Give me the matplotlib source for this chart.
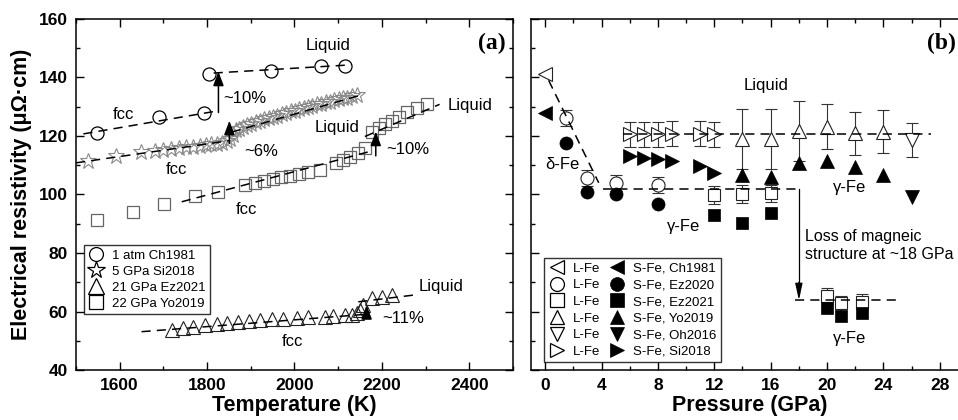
import matplotlib
matplotlib.use("Agg")
import matplotlib.pyplot as plt
from matplotlib.lines import Line2D
from matplotlib.ticker import MultipleLocator

plt.rcParams['font.family'] = ['Liberation Sans', 'DejaVu Sans']

# ---------------- Panel (a) data ----------------
circ_T = [1547, 1691, 1793, 1805, 1946, 2060, 2116]
circ_R = [121.1, 126.6, 127.8, 141.2, 142.3, 143.9, 143.9]

star_T = [1528, 1592, 1648, 1680, 1700, 1718, 1735, 1752, 1768, 1783, 1797, 1810,
          1822, 1834, 1845, 1853, 1859, 1866, 1874, 1882, 1891, 1901, 1911, 1921,
          1931, 1941, 1951, 1961, 1971, 1981, 1991, 2001, 2011, 2021, 2031, 2041,
          2051, 2061, 2071, 2081, 2091, 2101, 2111, 2121, 2131, 2144]
star_R = [111.6, 113.1, 114.4, 114.9, 115.3, 115.5, 115.9, 116.1, 116.2, 116.6, 116.8, 117.1,
          117.3, 117.7, 118.1, 118.8, 120.4, 121.9, 122.5, 122.9, 123.6, 124.0, 124.7, 125.1,
          125.7, 126.0, 126.6, 126.9, 127.5, 127.8, 128.4, 128.6, 129.2, 129.4, 130.0, 130.2,
          130.8, 131.0, 131.5, 131.7, 132.2, 132.5, 132.9, 133.1, 133.6, 134.1]

sq_T = [1549, 1631, 1701, 1772, 1826, 1887, 1910, 1930, 1950, 1970, 1990, 2010, 2032, 2058,
        2095, 2112, 2128, 2145, 2162, 2178, 2193, 2208, 2222, 2238, 2258, 2280, 2303]
sq_R = [91.3, 94.1, 96.8, 99.5, 101.0, 103.2, 104.0, 104.6, 105.3, 105.8, 106.4, 107.0, 107.8, 108.4,
        110.6, 111.8, 112.9, 114.0, 115.8, 121.5, 122.6, 124.0, 125.0, 126.5, 128.2, 129.6, 130.8]

tri_T = [1719, 1746, 1768, 1795, 1822, 1846, 1871, 1897, 1921, 1948, 1973, 2005, 2032, 2070,
         2089, 2116, 2131, 2142, 2150, 2157, 2177, 2200, 2222]
tri_R = [53.7, 54.3, 54.8, 55.4, 55.7, 56.2, 56.5, 56.9, 57.1, 57.3, 57.5, 57.8, 58.0, 58.2,
         58.5, 58.7, 58.9, 59.6, 60.5, 62.2, 64.5, 65.1, 65.6]

legend_a = ['1 atm Ch1981', '5 GPa Si2018', '21 GPa Ez2021', '22 GPa Yo2019']

# ---------------- Panel (b) data ----------------
L_ch_P, L_ch_R = [0], [141.0]
S_ch_P, S_ch_R = [0], [128.0]
L_ez20_P = [1.5, 3, 5, 8]
L_ez20_R = [126.2, 105.5, 104.0, 103.3]
L_ez20_E = [2.7, 2.7, 2.7, 2.7]
S_ez20_P = [1.5, 3, 5, 8]
S_ez20_R = [117.6, 100.9, 100.0, 96.8]
L_ez21_P = [12, 14, 16, 20, 21, 22.5]
L_ez21_R = [99.9, 100.1, 100.4, 65.3, 62.8, 63.4]
L_ez21_E = [3.0, 3.0, 3.0, 2.6, 2.6, 2.6]
S_ez21_P = [12, 14, 16, 20, 21, 22.5]
S_ez21_R = [93.0, 90.1, 93.8, 61.2, 58.4, 59.6]
L_yo_P = [14, 16, 18, 20, 22, 24]
L_yo_R = [119.0, 119.0, 121.8, 123.2, 120.9, 121.4]
L_yo_E = [10.3, 10.3, 10.2, 7.7, 7.4, 7.3]
S_yo_P = [14, 16, 18, 20, 22, 24]
S_yo_R = [106.7, 105.9, 110.7, 111.5, 109.5, 106.7]
L_oh_P, L_oh_R, L_oh_E = [26], [118.6], [5.9]
S_oh_P, S_oh_R = [26], [99.3]
L_si_P = [6, 7, 8, 9, 11, 12]
L_si_R = [120.6, 120.6, 120.6, 120.8, 120.8, 120.6]
L_si_E = [4.3, 4.3, 4.3, 4.3, 4.3, 4.3]
S_si_P = [6, 7, 8, 9, 11, 12]
S_si_R = [113.0, 112.3, 112.0, 111.3, 109.7, 107.5]

legend_b = ['S-Fe, Ch1981', 'S-Fe, Ez2020', 'S-Fe, Ez2021', 'S-Fe, Yo2019',
            'S-Fe, Oh2016', 'S-Fe, Si2018']

# ---------------- Figure ----------------
fig = plt.figure(figsize=(9.58, 4.2), dpi=100)
axa = fig.add_axes([0.0793, 0.119, 0.4562, 0.836])
axb = fig.add_axes([0.5543, 0.119, 0.4562, 0.836])

DASH = (0, (6, 4))
TXT = 12

def style(ax):
    for s in ax.spines.values():
        s.set_linewidth(1.1)
    ax.tick_params(which='both', direction='in', top=True, right=True, width=1.0)
    ax.tick_params(which='major', length=5.5, labelsize=12.5, pad=6)
    ax.tick_params(which='minor', length=3)
    for lab in ax.get_xticklabels() + ax.get_yticklabels():
        lab.set_fontweight('bold')

# ---- panel (a)
axa.set_xlim(1500, 2500)
axa.set_ylim(40, 160)
axa.xaxis.set_major_locator(MultipleLocator(200))
axa.xaxis.set_minor_locator(MultipleLocator(100))
axa.yaxis.set_major_locator(MultipleLocator(20))
axa.yaxis.set_minor_locator(MultipleLocator(10))
axa.set_xticks([1600, 1800, 2000, 2200, 2400])

axa.plot(circ_T, circ_R, 'o', ms=9.4, mfc='none', mec='k', mew=0.9, zorder=3)
axa.plot(star_T, star_R, '*', ms=12, mfc='none', mec='#8a8a8a', mew=0.8, zorder=3)
axa.plot(sq_T, sq_R, 's', ms=8.8, mfc='none', mec='#666666', mew=0.9, zorder=3)
axa.plot(tri_T, tri_R, '^', ms=9.6, mfc='none', mec='#222222', mew=0.8, zorder=3)

lk = dict(color='k', lw=1.1, ls=DASH, zorder=4)
axa.plot([1517, 1814], [120.7, 128.3], **lk)
axa.plot([1815, 2130], [141.5, 144.3], **lk)
axa.plot([1500, 1852], [110.8, 118.4], **lk)
axa.plot([1856, 2148], [121.3, 133.8], **lk)
axa.plot([1742, 2175], [97.5, 114.8], **lk)
axa.plot([2161, 2332], [119.8, 130.8], **lk)
axa.plot([1650, 2160], [53.1, 59.0], **lk)
axa.plot([2146, 2272], [63.3, 65.6], **lk)

arr = dict(arrowstyle='-|>,head_length=0.85,head_width=0.32', color='k', lw=1.1,
           shrinkA=0, shrinkB=0, mutation_scale=10)
for x, y0, y1 in [(1826, 128.0, 142.0), (1851, 117.5, 125.2), (2186, 113.2, 121.5), (2165, 58.2, 62.2)]:
    axa.annotate('', xy=(x, y1), xytext=(x, y0), arrowprops=arr, zorder=5)

for s, x, y, ha in [('fcc', 1608, 127.4, 'center'), ('fcc', 1730, 108.6, 'center'),
                    ('fcc', 1890, 95.0, 'center'), ('fcc', 1996, 49.7, 'center'),
                    ('Liquid', 2077, 150.8, 'center'), ('Liquid', 2097, 122.8, 'center'),
                    ('Liquid', 2350, 130.3, 'left'), ('Liquid', 2283, 68.7, 'left'),
                    ('~10%', 1836, 132.8, 'left'), ('~6%', 1885, 114.8, 'left'),
                    ('~10%', 2209, 115.2, 'left'), ('~11%', 2201, 57.7, 'left')]:
    axa.text(x, y, s, ha=ha, va='center', fontsize=TXT)

axa.text(0.982, 0.929, '(a)', transform=axa.transAxes, ha='right', va='center',
         fontsize=17, fontweight='bold', family='Liberation Serif')

ha_handles = [Line2D([], [], ls='none', marker=m, ms=ms, mfc='none', mec='k', mew=0.9)
              for m, ms in [('o', 10), ('*', 13), ('^', 11), ('s', 10)]]
la = axa.legend(ha_handles, legend_a, loc='upper left', bbox_to_anchor=(0.018, 0.356),
                fontsize=9.5, frameon=True, fancybox=False, edgecolor='k', borderpad=0.35,
                labelspacing=0.28, handlelength=1.2, handletextpad=0.6, borderaxespad=0)
la.get_frame().set_linewidth(1.0)

axa.set_xlabel('Temperature (K)', fontsize=15.5, fontweight='bold', labelpad=1)
axa.set_ylabel('Electrical resistivity (\u03bc\u03a9\u00b7cm)', fontsize=15.5,
               fontweight='bold', labelpad=5)
style(axa)

# ---- panel (b)
axb.set_xlim(-1, 30)
axb.set_ylim(40, 160)
axb.set_xticks([0, 4, 8, 12, 16, 20, 24, 28])
axb.xaxis.set_minor_locator(MultipleLocator(2))
axb.yaxis.set_major_locator(MultipleLocator(20))
axb.yaxis.set_minor_locator(MultipleLocator(10))
axb.tick_params(labelleft=False)

ek = dict(ecolor='#333333', elinewidth=0.8, capsize=4.6, capthick=0.8, ls='none', zorder=2)
axb.errorbar(L_ez20_P, L_ez20_R, yerr=L_ez20_E, fmt='none', **ek)
axb.errorbar(L_ez21_P, L_ez21_R, yerr=L_ez21_E, fmt='none', **ek)
axb.errorbar(L_yo_P, L_yo_R, yerr=L_yo_E, fmt='none', **ek)
axb.errorbar(L_oh_P, L_oh_R, yerr=L_oh_E, fmt='none', **ek)
axb.errorbar(L_si_P, L_si_R, yerr=L_si_E, fmt='none', **ek)

op = dict(ls='none', mfc='white', mec='#222222', mew=0.8, zorder=3)
fp = dict(ls='none', mfc='k', mec='k', mew=0.5, zorder=4)
axb.plot(L_ch_P, L_ch_R, '<', ms=9.5, **op)
axb.plot(L_ez20_P, L_ez20_R, 'o', ms=9.4, **op)
axb.plot(L_ez21_P, L_ez21_R, 's', ms=8.2, **op)
axb.plot(L_yo_P, L_yo_R, '^', ms=10.5, **op)
axb.plot(L_oh_P, L_oh_R, 'v', ms=10.5, **op)
axb.plot(L_si_P, L_si_R, '>', ms=10.0, **op)
axb.plot(S_ch_P, S_ch_R, '<', ms=9.5, **fp)
axb.plot(S_ez20_P, S_ez20_R, 'o', ms=9.4, **fp)
axb.plot(S_ez21_P, S_ez21_R, 's', ms=8.2, **fp)
axb.plot(S_yo_P, S_yo_R, '^', ms=10.5, **fp)
axb.plot(S_oh_P, S_oh_R, 'v', ms=10.5, **fp)
axb.plot(S_si_P, S_si_R, '>', ms=10.0, **fp)

lkb = dict(color='k', lw=1.1, ls=DASH, zorder=5)
axb.plot([0.25, 3.8], [139.0, 104.0], **lkb)
axb.plot([4.1, 18.0], [101.8, 101.8], **lkb)
axb.plot([5.5, 27.4], [120.6, 120.6], **lkb)
axb.plot([17.75, 25.2], [63.9, 63.9], **lkb)
axb.plot([18.0, 18.0], [101.8, 66.0], color='k', lw=0.9, zorder=5)
axb.annotate('', xy=(18.0, 63.9), xytext=(18.0, 70.0),
             arrowprops=dict(arrowstyle='-|>,head_length=1.0,head_width=0.22', color='k',
                             lw=0.9, shrinkA=0, shrinkB=0, mutation_scale=10), zorder=6)

for s, x, y in [('Liquid', 15.7, 137.4), ('\u03b4-Fe', 1.2, 110.4), ('\u03b3-Fe', 9.8, 89.0),
                ('\u03b3-Fe', 21.6, 102.4), ('\u03b3-Fe', 21.6, 50.8)]:
    axb.text(x, y, s, ha='center', va='center', fontsize=TXT)
axb.text(18.4, 82.4, 'Loss of magneic\nstructure at ~18 GPa', ha='left', va='center',
         fontsize=11.5, linespacing=1.25)

axb.text(0.973, 0.929, '(b)', transform=axb.transAxes, ha='right', va='center',
         fontsize=17, fontweight='bold', family='Liberation Serif')

mk = ['<', 'o', 's', '^', 'v', '>']
open_h = [Line2D([], [], ls='none', marker=m, ms=10, mfc='white', mec='k', mew=0.9) for m in mk]
fill_h = [Line2D([], [], ls='none', marker=m, ms=10, mfc='k', mec='k', mew=0.5) for m in mk]
lb = axb.legend(open_h + fill_h, ['L-Fe'] * 6 + legend_b, ncol=2, loc='upper left',
                bbox_to_anchor=(0.03, 0.319), fontsize=9.5, frameon=True, fancybox=False,
                edgecolor='k', borderpad=0.35, labelspacing=0.33, handlelength=1.2,
                handletextpad=0.6, columnspacing=0.7, borderaxespad=0)
lb.get_frame().set_linewidth(1.0)

axb.set_xlabel('Pressure (GPa)', fontsize=15.5, fontweight='bold', labelpad=1)
style(axb)

fig.savefig('out.png', dpi=100)
